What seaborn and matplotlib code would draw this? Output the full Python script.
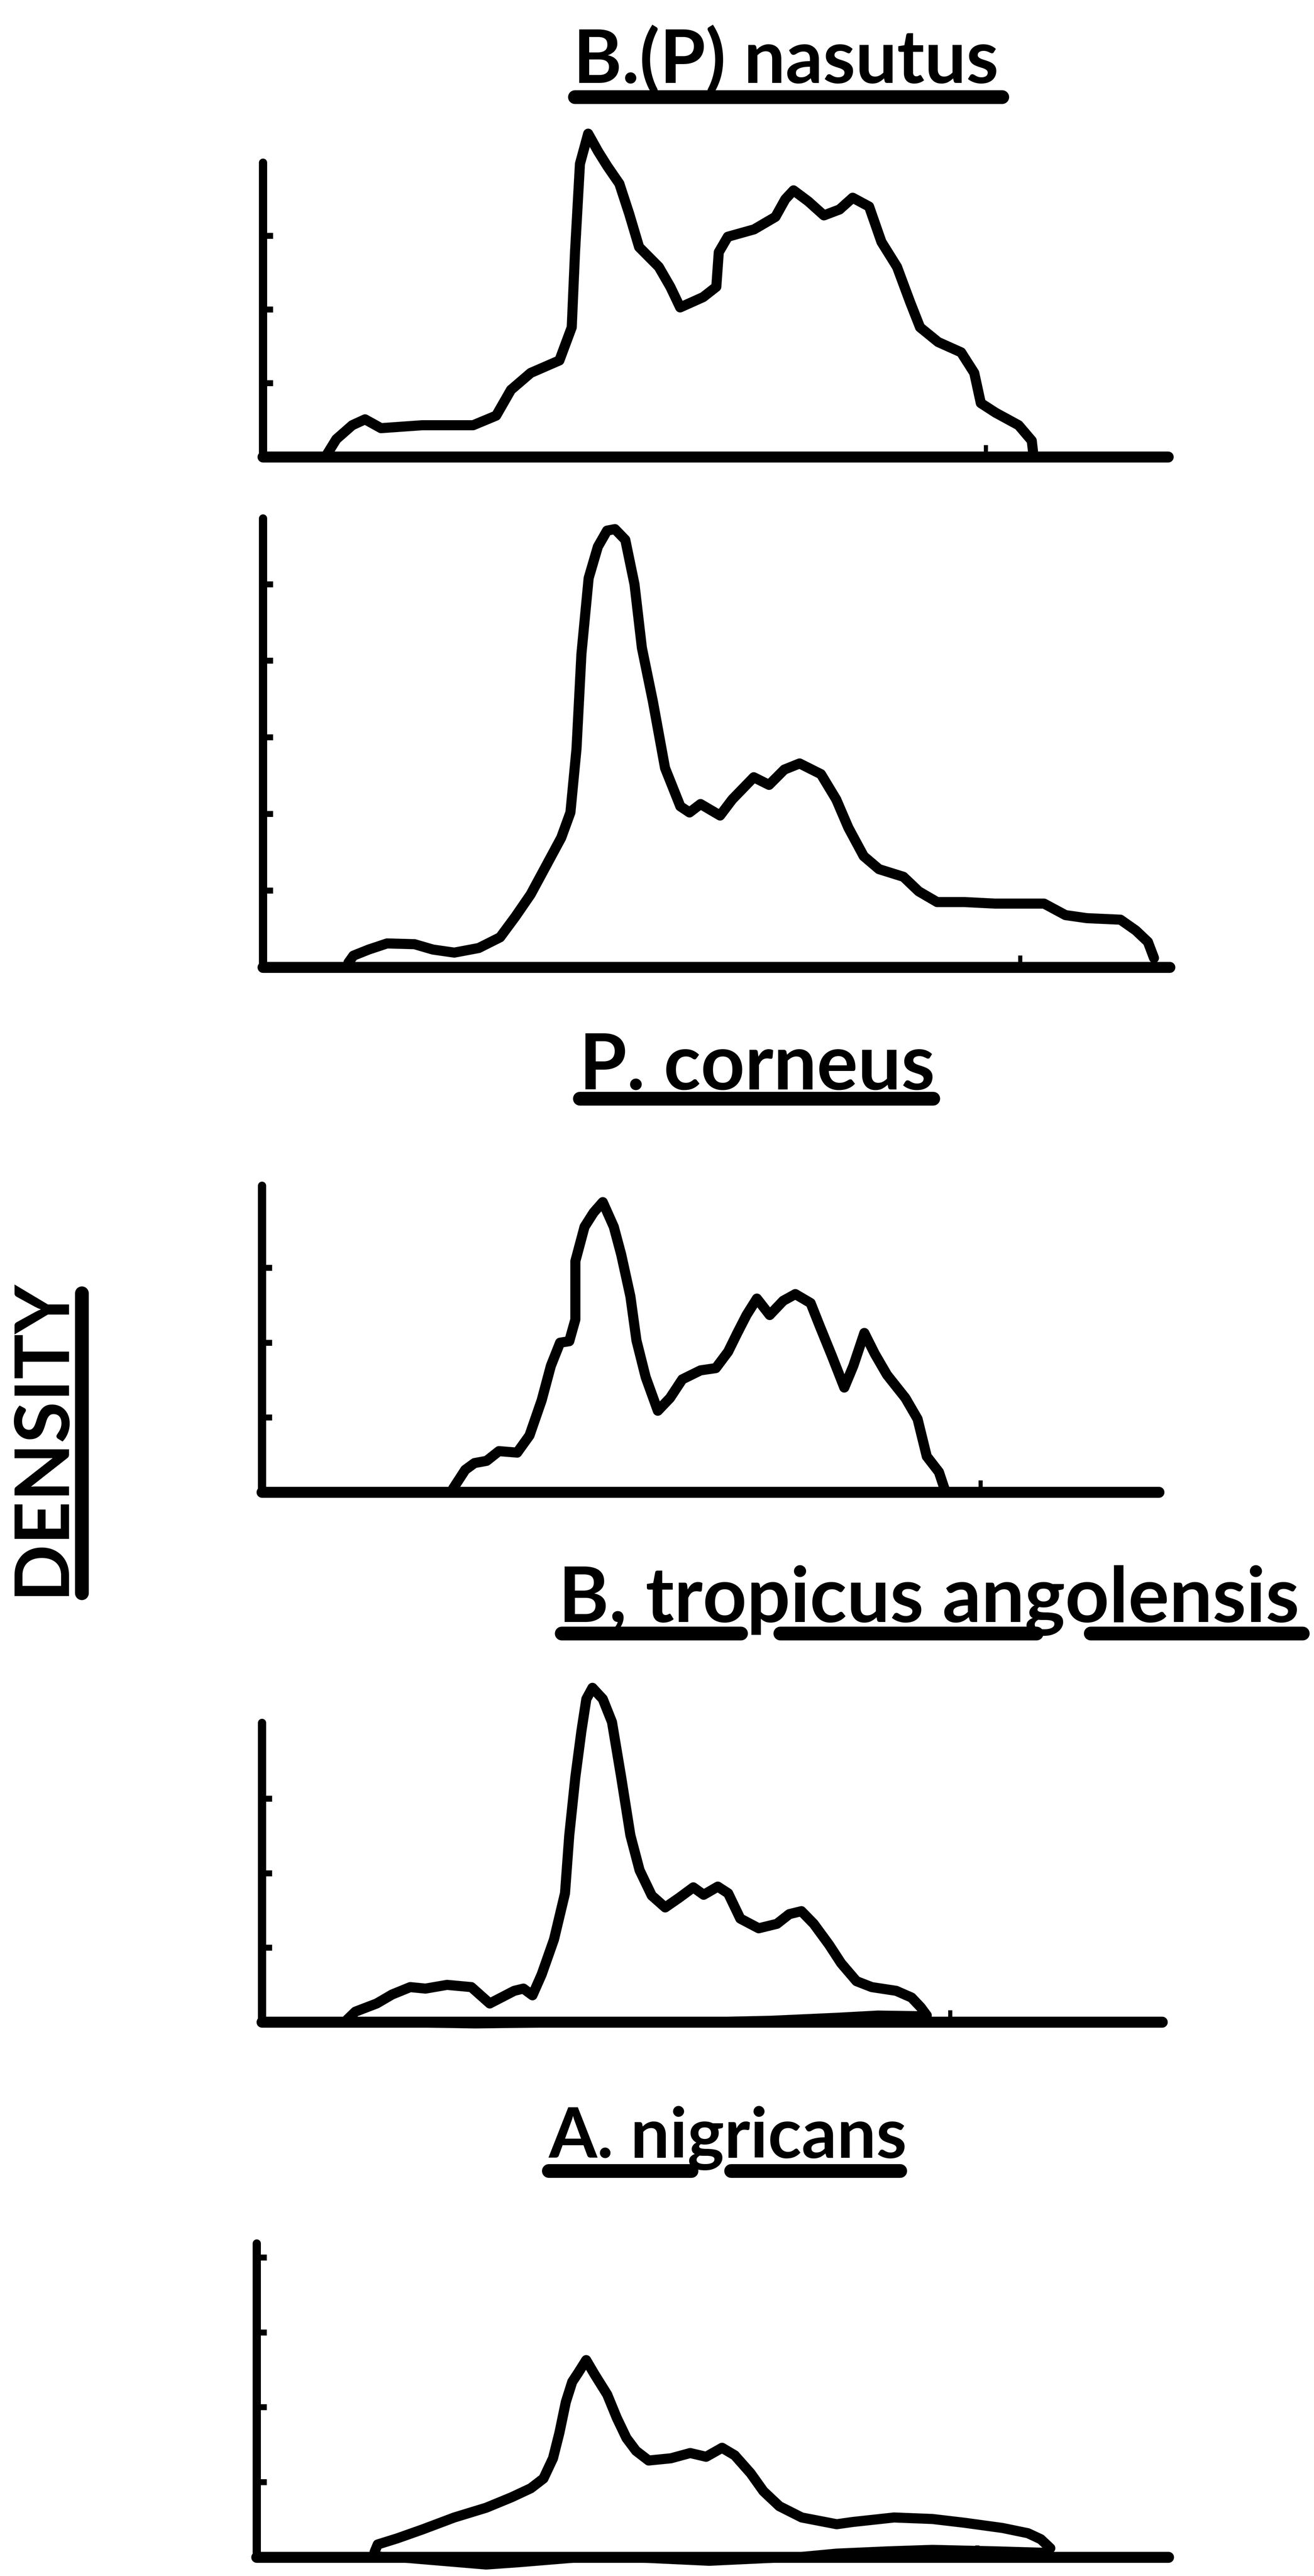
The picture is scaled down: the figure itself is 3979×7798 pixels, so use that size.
import matplotlib
matplotlib.use("Agg")
import matplotlib.pyplot as plt
import seaborn as sns
import pandas as pd
from matplotlib import font_manager
from matplotlib.lines import Line2D

# ============================================================
# DATA  (x in arbitrary mobility units, y in tick units)
# ============================================================

titles = ["B.(P) nasutus", "P. corneus", "B, tropicus angolensis", "A. nigricans"]
ylabel = "DENSITY"

# panel 1 - B.(P) nasutus
x1 = [3.89, 4.47, 5.44, 6.22, 7.19, 9.71, 12.8, 14.2, 15.1, 16.3, 18.05, 18.8, 19.0, 19.3,
      19.8, 20.4, 20.96, 21.7, 22.3, 22.9, 24.1, 24.8, 25.4, 26.8, 27.6, 27.75, 28.3, 29.9,
      31.2, 31.8, 32.3, 33.2, 34.15, 35.1, 35.9, 36.9, 37.65, 38.6, 39.4, 40.0, 41.1, 42.5,
      43.3, 43.7, 44.6, 46.0, 46.8, 46.9]
y1 = [0.03, 0.24, 0.43, 0.51, 0.39, 0.43, 0.43, 0.56, 0.91, 1.14, 1.31, 1.76, 2.78, 3.98,
      4.39, 4.15, 3.95, 3.71, 3.30, 2.85, 2.58, 2.31, 2.03, 2.17, 2.31, 2.78, 2.99, 3.09,
      3.26, 3.50, 3.62, 3.47, 3.28, 3.36, 3.52, 3.40, 2.92, 2.58, 2.10, 1.76, 1.56, 1.42,
      1.14, 0.73, 0.60, 0.43, 0.22, 0.03]

# panel 2 - B.(P) nasutus (second run)
x2 = [5.21, 5.51, 6.44, 7.56, 9.23, 10.35, 11.65, 13.14, 14.44, 15.37, 16.3, 17.23, 18.16,
      18.72, 19.09, 19.39, 19.83, 20.39, 20.95, 21.43, 22.06, 22.62, 23.07, 23.74, 24.48,
      25.41, 25.97, 26.64, 27.83, 28.57, 29.88, 30.81, 31.74, 32.67, 33.97, 34.9, 35.64,
      36.57, 37.5, 38.99, 39.92, 41.04, 42.71, 44.57, 47.55, 48.85, 50.15, 52.2, 53.13,
      53.87, 54.24]
y2 = [0.06, 0.15, 0.23, 0.31, 0.30, 0.23, 0.19, 0.25, 0.39, 0.66, 0.95, 1.32, 1.69, 2.02,
      2.85, 4.09, 5.08, 5.49, 5.70, 5.72, 5.58, 5.0, 4.17, 3.47, 2.60, 2.10, 2.02, 2.13,
      1.98, 2.19, 2.48, 2.38, 2.58, 2.66, 2.52, 2.19, 1.82, 1.45, 1.28, 1.18, 0.99, 0.85,
      0.85, 0.83, 0.83, 0.68, 0.64, 0.62, 0.48, 0.33, 0.12]

# panel 3 - P. corneus
x3 = [11.65, 12.39, 12.95, 13.69, 14.44, 15.55, 16.3, 17.04, 17.6, 18.16, 18.72, 19.09,
      19.09, 19.65, 20.2, 20.76, 21.43, 21.88, 22.44, 22.81, 23.37, 24.11, 24.85, 25.6,
      26.71, 27.64, 28.39, 28.95, 29.51, 30.14, 30.92, 31.74, 32.48, 33.41, 33.97, 34.71,
      35.46, 36.01, 36.68, 37.32, 38.06, 39.18, 39.92, 40.48, 41.22, 41.6]
y3 = [0.05, 0.30, 0.39, 0.42, 0.55, 0.53, 0.76, 1.23, 1.69, 2.0, 2.02, 2.31, 3.09, 3.55,
      3.74, 3.88, 3.55, 3.18, 2.62, 2.03, 1.54, 1.09, 1.26, 1.51, 1.63, 1.66, 1.88, 2.13,
      2.37, 2.59, 2.37, 2.56, 2.65, 2.53, 2.22, 1.82, 1.40, 1.69, 2.13, 1.85, 1.57, 1.26,
      0.98, 0.48, 0.27, 0.02]

# panel 4 - B, tropicus angolensis
x4 = [5.14, 5.7, 7.0, 7.93, 9.04, 9.97, 11.28, 12.76, 13.88, 15.37, 15.93, 16.48, 17.04,
      17.79, 18.46, 18.72, 19.09, 19.46, 19.76, 20.13, 20.76, 21.32, 21.88, 22.44, 23.0,
      23.74, 24.56, 25.41, 26.27, 26.9, 27.76, 28.39, 29.13, 30.25, 31.36, 32.11, 32.85,
      33.6, 34.53, 35.27, 36.2, 37.13, 38.62, 39.55, 40.11, 40.48]
y4 = [0.02, 0.14, 0.25, 0.37, 0.47, 0.45, 0.50, 0.47, 0.25, 0.42, 0.45, 0.36, 0.64, 1.11,
      1.73, 2.51, 3.29, 3.91, 4.34, 4.49, 4.34, 4.03, 3.29, 2.51, 2.04, 1.70, 1.54, 1.67,
      1.81, 1.71, 1.82, 1.73, 1.39, 1.26, 1.32, 1.45, 1.49, 1.32, 1.04, 0.79, 0.55, 0.47,
      0.42, 0.33, 0.20, 0.09]
x4_base = [5.14, 13.0, 20.0, 25.0, 31.0, 35.0, 37.5, 40.48]
y4_base = [0.0, -0.03, -0.01, 0.0, 0.03, 0.07, 0.10, 0.09]

# panel 5 - A. nigricans
x5 = [7.18, 7.37, 8.54, 10.09, 12.03, 13.97, 15.52, 16.69, 17.46, 18.04, 18.43, 18.82,
      19.21, 19.6, 20.06, 20.57, 21.34, 21.92, 22.51, 23.09, 23.86, 25.22, 26.39, 27.36,
      28.33, 29.1, 30.07, 30.85, 31.82, 33.18, 35.31, 36.28, 38.8, 41.13, 43.07, 45.4,
      46.95, 47.73, 48.31, 48.11]
y5 = [0.07, 0.17, 0.25, 0.37, 0.53, 0.66, 0.80, 0.92, 1.05, 1.32, 1.66, 2.07, 2.34, 2.47,
      2.63, 2.44, 2.17, 1.86, 1.59, 1.42, 1.29, 1.32, 1.39, 1.34, 1.46, 1.36, 1.12, 0.88,
      0.68, 0.53, 0.44, 0.47, 0.53, 0.51, 0.46, 0.39, 0.32, 0.24, 0.12, 0.07]
x5_base = [48.11, 45.01, 41.13, 38.41, 35.31, 31.43, 27.55, 23.67, 19.79, 15.91, 13.97,
           11.25, 8.54, 7.18]
y5_base = [0.07, 0.09, 0.11, 0.09, 0.06, -0.02, -0.06, -0.02, -0.01, -0.08, -0.11,
           -0.06, -0.01, 0.03]

curves_x = [x1, x2, x3, x4, x5]
curves_y = [y1, y2, y3, y4, y5]
bases = {3: (x4_base, y4_base), 4: (x5_base, y5_base)}

spine_top = [4.0, 5.86, 4.1, 4.02, 4.19]
axis_end = [55.1, 55.2, 54.6, 54.8, 55.5]
axis_mark = [44.0, 46.1, 43.75, 41.9, 43.85]

# ============================================================
# LAYOUT (positions measured on an 800 px wide copy)
# ============================================================

W, H = 3980, 7798
S = W / 800
H800 = H / S

# left of y axis, baseline, px per tick unit, y limit top
panel_box = [(160, 278, 44.8, 4.8),
             (160, 588.5, 46.6, 6.2),
             (159.3, 908, 45.5, 4.4),
             (159.3, 1230.4, 45.3, 4.8),
             (156.2, 1556, 45.6, 4.4)]

# title left, baseline, width; underline y and segments
title_box = [(349, 50.3, 259, 59, [(350, 610)]),
             (352.5, 663, 216.5, 668.5, [(353, 568)]),
             (340, 987, 451, 994, [(342, 451), (475, 631), (664, 793)]),
             (334, 1313, 218, 1321, [(334, 421), (445, 548)])]

sns.set_theme(style="white")
names = {f.name for f in font_manager.fontManager.ttflist}
if "Liberation Sans Narrow" in names:
    font = "Liberation Sans Narrow"
elif "Lato" in names:
    font = "Lato"
else:
    font = "DejaVu Sans"
plt.rcParams["font.family"] = [font, "DejaVu Sans"]

fig = plt.figure(figsize=(W / 100, H / 100), dpi=100)
fig.patch.set_facecolor("white")


def fy(p):
    return 1 - p / H800


# ============================================================
# PANELS
# ============================================================

for i in range(5):
    left, base, unit, ytop = panel_box[i]
    ylo = -0.4
    bot800 = base - ylo * unit
    top800 = base - ytop * unit
    ax = fig.add_axes([left / 800, fy(bot800), 560 / 800, (bot800 - top800) / H800])
    ax.patch.set_alpha(0)

    df = pd.DataFrame({"x": curves_x[i], "y": curves_y[i]})
    sns.lineplot(data=df, x="x", y="y", ax=ax, color="black", linewidth=22,
                 sort=False, estimator=None, solid_capstyle="round",
                 solid_joinstyle="round", clip_on=False)
    if i in bases:
        bx, by = bases[i]
        dfb = pd.DataFrame({"x": bx, "y": by})
        sns.lineplot(data=dfb, x="x", y="y", ax=ax, color="black", linewidth=18,
                     sort=False, estimator=None, solid_capstyle="round",
                     solid_joinstyle="round", clip_on=False)

    ax.set_xlim(0, 56)
    ax.set_ylim(ylo, ytop)
    ax.set_xlabel("")
    ax.set_ylabel("")

    for side in ["top", "right"]:
        ax.spines[side].set_visible(False)
    ax.spines["left"].set_bounds(0, spine_top[i])
    ax.spines["left"].set_linewidth(18)
    ax.spines["left"].set_color("black")
    ax.spines["left"].set_capstyle("round")
    ax.spines["bottom"].set_position(("data", 0))
    ax.spines["bottom"].set_bounds(0, axis_end[i])
    ax.spines["bottom"].set_linewidth(24)
    ax.spines["bottom"].set_color("black")
    ax.spines["bottom"].set_capstyle("round")

    n_ticks = int(spine_top[i] - 0.1)
    ax.set_yticks(list(range(1, n_ticks + 1)))
    ax.set_xticks([axis_mark[i]])
    ax.tick_params(axis="y", direction="in", left=True, length=22, width=13,
                   color="black", labelleft=False)
    ax.tick_params(axis="x", direction="in", bottom=True, length=26, width=9,
                   color="black", labelbottom=False)
    ax.grid(False)

# ============================================================
# TITLES + UNDERLINES
# ============================================================

title_objs = []
for text, (tl, tb, tw, uy, segs) in zip(titles, title_box):
    t = fig.text(tl / 800, fy(tb), text, ha="left", va="baseline",
                 fontsize=170, fontweight="bold", color="black")
    title_objs.append((t, tw))
    for a, b in segs:
        fig.add_artist(Line2D([a / 800, b / 800], [fy(uy), fy(uy)], color="black",
                              linewidth=30, solid_capstyle="round"))

ylab = fig.text(126 / W, 1 - 4350 / H, ylabel, rotation=90, ha="center", va="center",
                fontsize=190, fontweight="bold", color="black")
fig.add_artist(Line2D([248 / W, 248 / W], [1 - 3915 / H, 1 - 4823 / H], color="black",
                      linewidth=30, solid_capstyle="round"))

# fit text sizes to the measured widths
fig.canvas.draw()
r = fig.canvas.get_renderer()
for t, tw in title_objs:
    bb = t.get_window_extent(r)
    t.set_fontsize(t.get_fontsize() * tw * S / bb.width)
bb = ylab.get_window_extent(r)
ylab.set_fontsize(ylab.get_fontsize() * 962 / bb.height)

fig.savefig("out.png", dpi=100, facecolor="white")
plt.close(fig)
